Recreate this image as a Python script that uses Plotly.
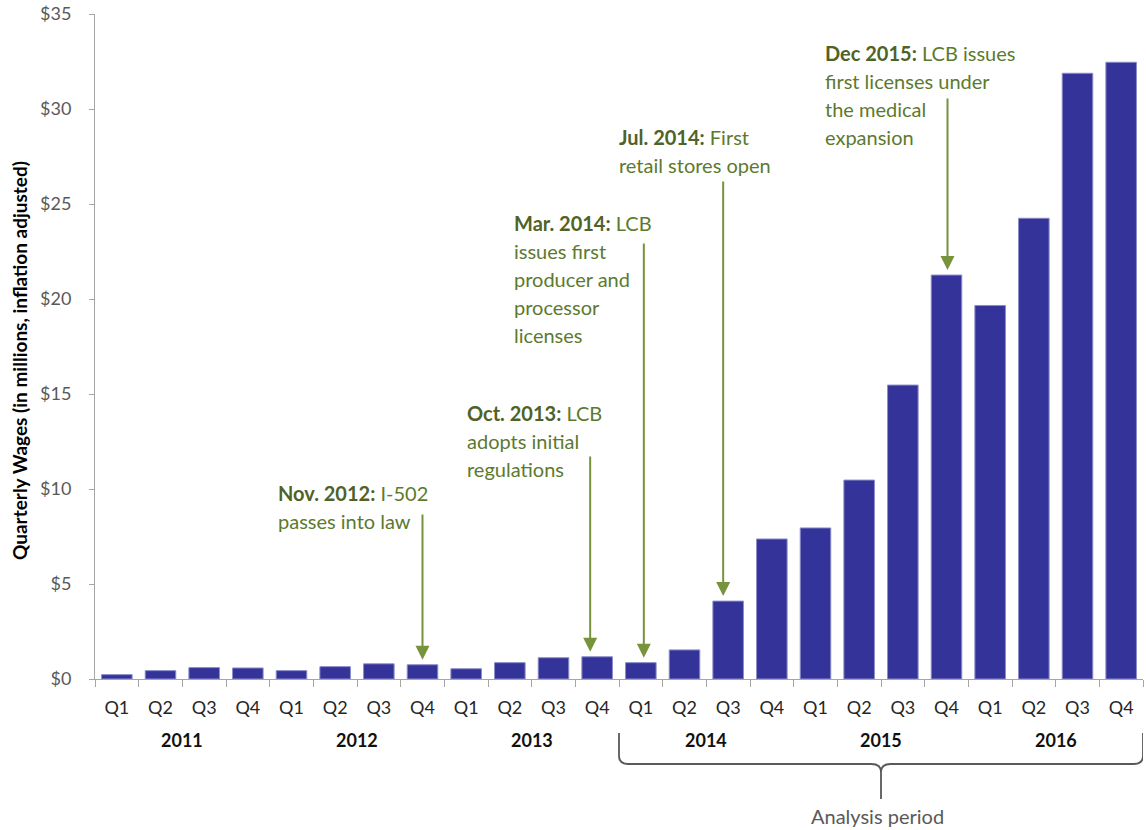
import plotly.graph_objects as go

# ---------------- data ----------------
years = ["2011", "2012", "2013", "2014", "2015", "2016"]
quarters = ["Q1", "Q2", "Q3", "Q4"]
wages = [0.23, 0.44, 0.60, 0.58,
         0.44, 0.65, 0.80, 0.75,
         0.54, 0.86, 1.12, 1.17,
         0.86, 1.53, 4.10, 7.37,
         7.95, 10.47, 15.47, 21.26,
         19.66, 24.25, 31.88, 32.46]
y_ticks = [0, 5, 10, 15, 20, 25, 30, 35]
y_ticktext = ["$0", "$5", "$10", "$15", "$20", "$25", "$30", "$35"]

# events: bold head, rest of first line, further lines, target bar index
event_heads = ["Nov. 2012:", "Oct. 2013:", "Mar. 2014:", "Jul. 2014:", "Dec 2015:"]
event_first = [" I-502", " LCB", " LCB", " First", " LCB issues"]
event_more = [["passes into law"],
              ["adopts initial", "regulations"],
              ["issues first", "producer and", "processor", "licenses"],
              ["retail stores open"],
              ["first licenses under", "the medical", "expansion"]]
event_bar = [7, 11, 12, 14, 19]

# ---------------- layout geometry ----------------
W, H = 1146, 830
L, R, T, B = 95, 3, 14, 151
PW, PH = W - L - R, H - T - B
YMAX = 35

def paper_x(px):
    return (px - L) / PW

def paper_y(py):
    return (H - B - py) / PH

def data_y(py):
    return YMAX * (H - B - py) / PH

# text placement (left px, first line centre px) and arrow (x shift px, tail px)
text_left = [276, 465, 512, 617, 823]
text_top = [493, 413, 223, 137, 53]
arrow_xshift = [0, -7, 3, -5, 1]
arrow_tail = [513, 455, 242, 180, 97]
LINE = 28

BOLD_C = "#4F6228"
TEXT_C = "#5C7A2E"
ARROW_C = "#77933C"
FONT = "Lato, 'Open Sans', sans-serif"

n = len(wages)
xs = list(range(n))
qlabels = [quarters[i % 4] for i in xs]

fig = go.Figure()
fig.add_trace(go.Bar(
    x=xs, y=wages,
    marker=dict(color="#333399", line=dict(color="#8C8CC8", width=1)),
    hoverinfo="y",
))

annotations = []
# year labels
for k, yr in enumerate(years):
    annotations.append(dict(
        x=4 * k + 1.5, xref="x", y=paper_y(740), yref="paper",
        text="<b>" + yr + "</b>", showarrow=False,
        font=dict(family=FONT, size=18, color="#111111"),
        xanchor="center", yanchor="middle"))

# event texts + arrows
for i in range(len(event_heads)):
    lines = ['<span style="color:%s"><b>%s</b></span>%s' % (BOLD_C, event_heads[i], event_first[i])]
    lines += event_more[i]
    for j, t in enumerate(lines):
        annotations.append(dict(
            x=paper_x(text_left[i]), xref="paper",
            y=paper_y(text_top[i] + j * LINE), yref="paper",
            text=t, showarrow=False, xanchor="left", yanchor="middle",
            font=dict(family=FONT, size=20, color=TEXT_C)))
    b = event_bar[i]
    annotations.append(dict(
        x=b, y=wages[b], xref="x", yref="y",
        ax=b, ay=data_y(arrow_tail[i]), axref="x", ayref="y",
        xshift=arrow_xshift[i],
        text="", showarrow=True, arrowhead=2, arrowsize=1.4, arrowwidth=2,
        arrowcolor=ARROW_C, standoff=5))

# y axis title
annotations.append(dict(
    x=paper_x(19), xref="paper", y=paper_y(361), yref="paper",
    text="<b>Quarterly Wages (in millions, inflation adjusted)</b>",
    textangle=-90, showarrow=False, xanchor="center", yanchor="middle",
    font=dict(family=FONT, size=19, color="#000000")))

# analysis period label
annotations.append(dict(
    x=paper_x(877), xref="paper", y=paper_y(816), yref="paper",
    text="Analysis period", showarrow=False, xanchor="center", yanchor="middle",
    font=dict(family=FONT, size=20, color="#595959")))

# curly bracket under analysis period (2014-2016)
x0, xm, x1 = 11.5, 17.5, 23.5
yt, yh, yb = paper_y(733), paper_y(764), paper_y(799)
dx, dy = 0.22, 0.012
path = (f"M {x0},{yt} L {x0},{yh + dy} Q {x0},{yh} {x0 + dx},{yh} "
        f"L {xm - dx},{yh} Q {xm},{yh} {xm},{yh - dy} L {xm},{yb} "
        f"M {xm},{yh - dy} Q {xm},{yh} {xm + dx},{yh} "
        f"L {x1 - dx},{yh} Q {x1},{yh} {x1},{yh + dy} L {x1},{yt}")
shapes = [dict(type="path", path=path, xref="x", yref="paper",
               line=dict(color="#595959", width=1.8))]

fig.update_layout(
    width=W, height=H,
    margin=dict(l=L, r=R, t=T, b=B, pad=0),
    paper_bgcolor="white", plot_bgcolor="white",
    bargap=0.3, showlegend=False,
    annotations=annotations, shapes=shapes,
    xaxis=dict(
        range=[-0.5, n - 0.5], tickmode="array", tickvals=xs, ticktext=qlabels,
        ticks="", showgrid=False, zeroline=False,
        showline=True, linecolor="#A6A6A6", linewidth=1,
        tickfont=dict(family=FONT, size=18, color="#262626"),
        ticklabelstandoff=12,
        minor=dict(tickmode="array", tickvals=[v - 0.5 for v in range(n + 1)],
                   ticks="outside", ticklen=7, tickcolor="#A6A6A6", tickwidth=1,
                   showgrid=False),
        fixedrange=True,
    ),
    yaxis=dict(
        range=[0, YMAX], tickmode="array", tickvals=y_ticks, ticktext=y_ticktext,
        ticks="outside", ticklen=5, tickcolor="#A6A6A6",
        showgrid=False, zeroline=False,
        showline=True, linecolor="#A6A6A6", linewidth=1,
        tickfont=dict(family=FONT, size=18, color="#595959"),
        ticklabelstandoff=14,
        fixedrange=True,
    ),
)

fig.write_html("out.html", config={"displayModeBar": False},
               post_script="document.body.style.margin='0px';")
